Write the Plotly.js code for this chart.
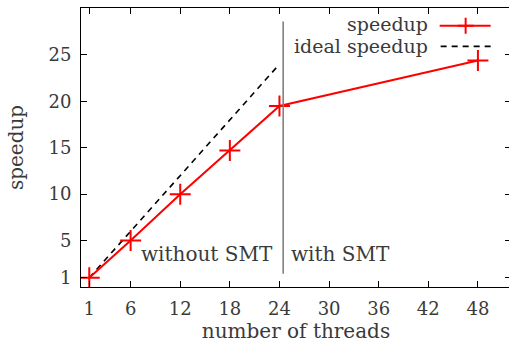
<!DOCTYPE html>
<html>
<head>
<meta charset="utf-8">
<script src="https://cdn.plot.ly/plotly-3.0.1.min.js"></script>
<style>
html,body{margin:0;padding:0;overflow:hidden;background:#fff;}
#chart{width:512px;height:343px;}
</style>
</head>
<body>
<div id="chart"></div>
<script>
// Data
var threads = [1, 6, 12, 18, 24, 48];
var speedup = [1, 5.0, 10.0, 14.7, 19.5, 24.4];
var idealThreads = [1, 24];
var idealSpeedup = [1, 24];
var xTicks = [1, 6, 12, 18, 24, 30, 36, 42, 48];
var yTicks = [1, 5, 10, 15, 20, 25];
var smtBoundary = 24.45;

var FONT = '"DejaVu Serif"';
var TXT = '#3a3a3a';
var TS = 20;

var traces = [
  {
    x: idealThreads, y: idealSpeedup, mode: 'lines', name: 'ideal speedup',
    line: {color: '#000', width: 1.6, dash: '6px,5px'}, hoverinfo: 'skip'
  },
  {
    x: threads, y: speedup, mode: 'lines+markers', name: 'speedup',
    line: {color: '#ff0000', width: 2},
    marker: {symbol: 'cross-thin-open', size: 15, color: '#ff0000', line: {color: '#ff0000', width: 2}}
  }
];

var pxL = 81, pw = 430.4;
function px(xp){ return (xp - pxL) / pw; }
function py(yp){ return (286.6 - yp) / 278.3; }

var layout = {
  width: 512, height: 343,
  margin: {l: 81, r: 0.6, t: 8.3, b: 56.4},
  paper_bgcolor: '#fff', plot_bgcolor: '#fff',
  showlegend: false,
  font: {family: FONT, size: 18, color: TXT},
  xaxis: {
    range: [0, 52], tickvals: xTicks, ticktext: xTicks.map(String),
    ticks: 'inside', ticklen: 6, tickwidth: 1, tickcolor: '#000',
    showline: true, linecolor: '#000', linewidth: 1, mirror: 'allticks',
    showgrid: false, zeroline: false,
    ticklabelstandoff: 5,
    tickfont: {family: FONT, size: 18, color: TXT},
    title: {text: 'number of threads', font: {family: FONT, size: TS, color: TXT}, standoff: 24}
  },
  yaxis: {
    range: [0, 30.05], tickvals: yTicks, ticktext: yTicks.map(String),
    ticks: 'inside', ticklen: 6, tickwidth: 1, tickcolor: '#000',
    showline: true, linecolor: '#000', linewidth: 1, mirror: 'allticks',
    showgrid: false, zeroline: false,
    ticklabelstandoff: 5,
    tickfont: {family: FONT, size: 18, color: TXT},
    title: {text: 'speedup', font: {family: FONT, size: TS, color: TXT}, standoff: 19}
  },
  shapes: [
    {type: 'line', xref: 'x', yref: 'y', x0: smtBoundary, x1: smtBoundary, y0: 1.44, y1: 28.6,
     line: {color: '#808080', width: 1.6}},
    // legend samples
    {type: 'line', xref: 'paper', yref: 'paper', x0: px(440), x1: px(491), y0: py(26), y1: py(26),
     line: {color: '#ff0000', width: 2}},
    {type: 'line', xref: 'paper', yref: 'paper', x0: px(466-8), x1: px(466+8), y0: py(26), y1: py(26),
     line: {color: '#ff0000', width: 2}},
    {type: 'line', xref: 'paper', yref: 'paper', x0: px(466), x1: px(466), y0: py(18), y1: py(34),
     line: {color: '#ff0000', width: 2}},
    {type: 'line', xref: 'paper', yref: 'paper', x0: px(441), x1: px(491), y0: py(46.5), y1: py(46.5),
     line: {color: '#000', width: 1.8, dash: '6px,5px'}}
  ],
  annotations: [
    {x: 23.5, y: 3.6, xref: 'x', yref: 'y', text: 'without SMT', showarrow: false, xanchor: 'right', yanchor: 'middle',
     font: {family: FONT, size: TS, color: TXT}},
    {x: 25.2, y: 3.6, xref: 'x', yref: 'y', text: 'with SMT', showarrow: false, xanchor: 'left', yanchor: 'middle',
     font: {family: FONT, size: TS, color: TXT}},
    {x: px(430), y: py(24), xref: 'paper', yref: 'paper', text: 'speedup', showarrow: false, xanchor: 'right', yanchor: 'middle',
     font: {family: FONT, size: 19, color: TXT}},
    {x: px(430), y: py(46), xref: 'paper', yref: 'paper', text: 'ideal speedup', showarrow: false, xanchor: 'right', yanchor: 'middle',
     font: {family: FONT, size: 19, color: TXT}}
  ]
};

Plotly.newPlot('chart', traces, layout, {displayModeBar: false, staticPlot: true});
</script>
</body>
</html>
